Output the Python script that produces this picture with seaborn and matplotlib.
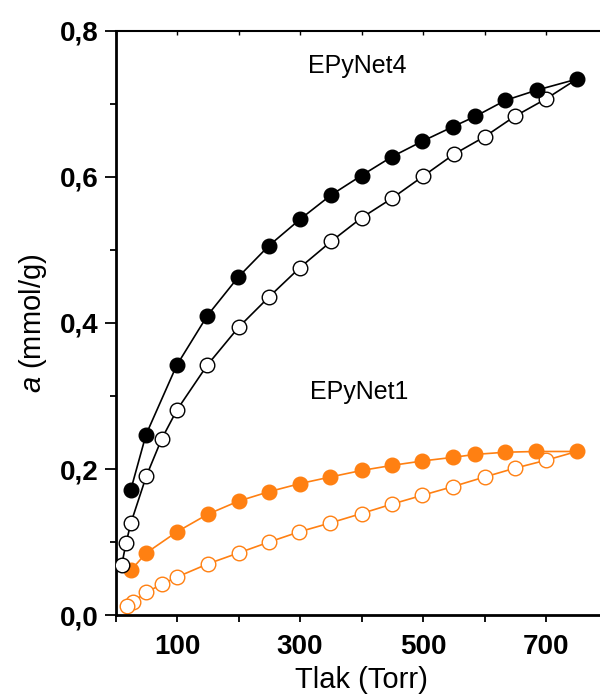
import matplotlib
matplotlib.use("Agg")
import matplotlib.pyplot as plt
import pandas as pd
import seaborn as sns
from matplotlib.ticker import FixedLocator, FuncFormatter

# Adsorption (filled) and desorption (open) isotherms, pressure in Torr, uptake in mmol/g
p_ads_4 = [24.7, 49.6, 99.5, 149.3, 199.7, 249.6, 300, 350, 400, 450, 499, 549, 585, 634, 685, 750]
a_ads_4 = [0.171, 0.247, 0.342, 0.410, 0.463, 0.506, 0.542, 0.575, 0.602, 0.628, 0.649,
           0.669, 0.683, 0.705, 0.719, 0.734]
p_des_4 = [750, 700, 649, 600, 550, 500, 450, 400, 351, 300, 250, 200, 149, 100, 75, 50, 25, 17, 10]
a_des_4 = [0.734, 0.707, 0.683, 0.655, 0.631, 0.601, 0.571, 0.544, 0.512, 0.476, 0.436,
           0.394, 0.342, 0.281, 0.241, 0.190, 0.126, 0.098, 0.068]

p_ads_1 = [24.7, 50, 100, 150, 200, 250, 300, 349, 400, 450, 499, 549, 585, 634, 684, 750]
a_ads_1 = [0.061, 0.085, 0.114, 0.138, 0.156, 0.169, 0.180, 0.189, 0.198, 0.205, 0.211,
           0.216, 0.220, 0.223, 0.224, 0.224]
p_des_1 = [750, 700, 649, 600, 549, 499, 450, 400, 349, 299, 250, 200, 150, 100, 75, 50, 28, 19]
a_des_1 = [0.224, 0.212, 0.201, 0.189, 0.176, 0.164, 0.152, 0.139, 0.126, 0.114, 0.100,
           0.085, 0.070, 0.052, 0.042, 0.031, 0.018, 0.013]

x_ticks = [0, 100, 200, 300, 400, 500, 600, 700, 800]
x_tick_labels = {100: "100", 300: "300", 500: "500", 700: "700"}
y_major = [0.0, 0.2, 0.4, 0.6, 0.8]
y_minor = [0.1, 0.3, 0.5, 0.7]

BLACK = "#000000"
ORANGE = "#FF8012"

sns.set_style("ticks")
plt.rcParams["font.family"] = ["Liberation Sans", "DejaVu Sans"]
plt.rcParams["mathtext.fontset"] = "custom"
plt.rcParams["mathtext.it"] = "Liberation Sans:italic"
plt.rcParams["mathtext.rm"] = "Liberation Sans"
for key in ("text.color", "axes.labelcolor", "xtick.color", "ytick.color", "axes.edgecolor"):
    plt.rcParams[key] = "black"

fig = plt.figure(figsize=(6.0, 6.98), dpi=100)
ax = fig.add_axes([0.1925, 0.1189, 0.82, 0.8367])


def draw(p, a, color, filled, z):
    df = pd.DataFrame({"p": p, "a": a})
    n = len(df)
    every = list(range(n)) if filled else list(range(1, n))
    sns.lineplot(data=df, x="p", y="a", sort=False, estimator=None, ax=ax,
                 color=color, lw=1.2, marker="o", markersize=10.5,
                 markerfacecolor=color if filled else "white",
                 markeredgecolor=color, markeredgewidth=1.0,
                 markevery=every, zorder=z)


draw(p_des_1, a_des_1, ORANGE, False, 2)
draw(p_ads_1, a_ads_1, ORANGE, True, 3)
draw(p_des_4, a_des_4, BLACK, False, 4)
draw(p_ads_4, a_ads_4, BLACK, True, 5)

ax.set_xlim(0, 800)
ax.set_ylim(0, 0.8)

ax.xaxis.set_major_locator(FixedLocator(x_ticks))
ax.xaxis.set_major_formatter(FuncFormatter(lambda v, pos: x_tick_labels.get(int(round(v)), "")))
ax.yaxis.set_major_locator(FixedLocator(y_major))
ax.yaxis.set_minor_locator(FixedLocator(y_minor))
ax.yaxis.set_major_formatter(FuncFormatter(lambda v, pos: f"{v:.1f}".replace(".", ",")))

ax.tick_params(axis="x", which="major", direction="out", length=5, width=1.3,
               labelsize=20, pad=9)
ax.tick_params(axis="y", which="major", direction="out", length=8, width=1.3,
               labelsize=20, pad=4)
ax.tick_params(axis="y", which="minor", direction="out", length=4, width=1.3)
for lab in ax.get_xticklabels() + ax.get_yticklabels():
    lab.set_fontweight("bold")

for side in ("left", "bottom"):
    ax.spines[side].set_linewidth(2.0)
ax.spines["top"].set_linewidth(1.5)
ax.spines["right"].set_visible(False)

top = ax.secondary_xaxis("top")
top.xaxis.set_major_locator(FixedLocator(x_ticks))
top.tick_params(axis="x", direction="in", length=3, width=1.0, labeltop=False)
top.spines["top"].set_visible(False)

ax.set_xlabel("Tlak (Torr)", fontsize=21, labelpad=4)
ax.set_ylabel(r"$\mathit{a}$ (mmol/g)", fontsize=21, labelpad=8)

ax.text(393, 0.752, "EPyNet4", fontsize=18, ha="center", va="center")
ax.text(397, 0.305, "EPyNet1", fontsize=18, ha="center", va="center")

fig.savefig("out.png", dpi=100)
